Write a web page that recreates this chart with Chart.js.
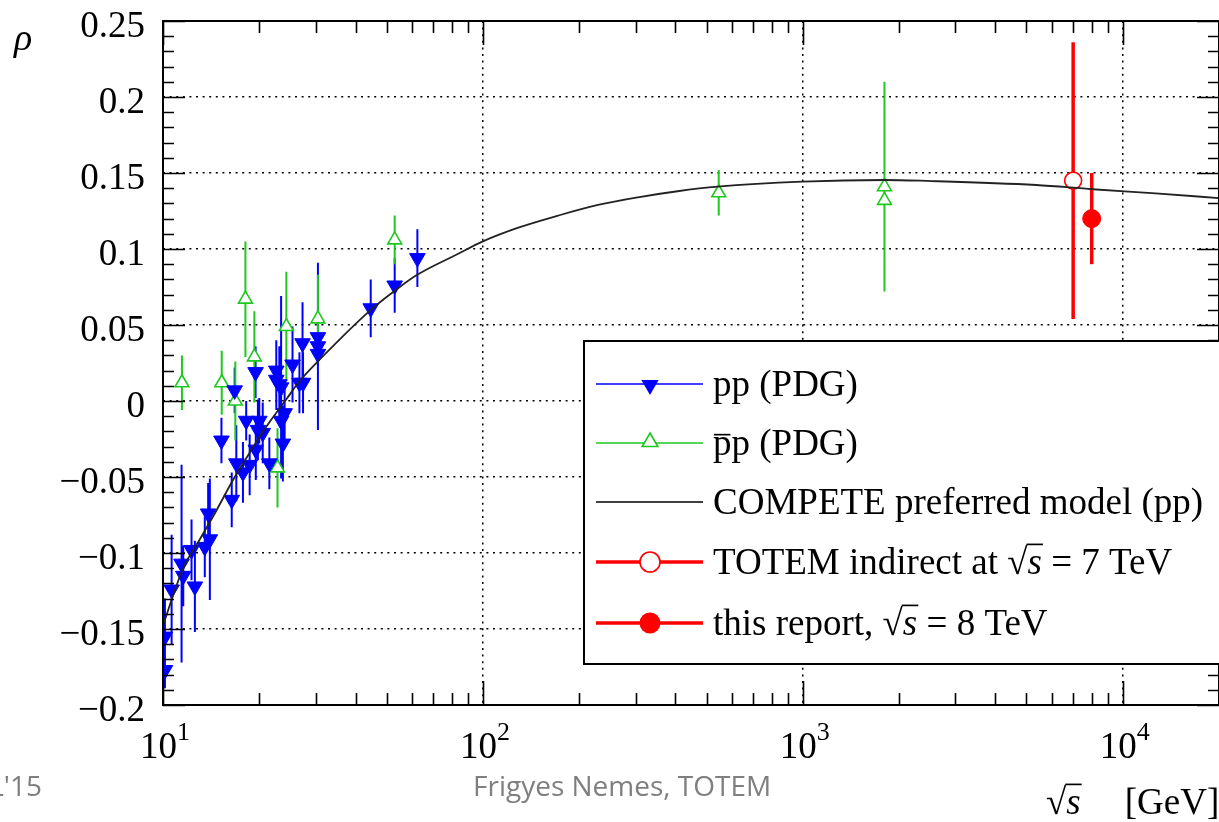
<!DOCTYPE html>
<html>
<head>
<meta charset="utf-8">
<title>rho vs sqrt(s)</title>
<script src="https://cdn.jsdelivr.net/npm/chart.js@4/dist/chart.umd.min.js"></script>
<style>
  html, body { margin: 0; padding: 0; background: #fff; overflow: hidden; }
  #rho-chart { display: block; width: 1219px; height: 822px; }
</style>
</head>
<body>
<canvas id="rho-chart" width="1219" height="822"></canvas>
<script>
// pp (PDG): sqrt(s) [GeV], rho, error
const ppEnergy = [10.14, 10.14, 10.64, 11.43, 11.57, 12.28, 12.58, 13.51, 13.84, 14.01,
                  15.23, 16.40, 16.75, 16.95, 17.78, 18.20, 18.66, 19.47, 19.50, 19.80,
                  20.00, 20.50, 21.50, 22.60, 22.60, 23.10, 23.40, 23.40, 23.70, 24.00,
                  25.40, 26.70, 27.30, 27.40, 30.50, 30.50, 30.50, 44.60, 53.00, 62.40];
const ppRho = [-0.155, -0.177, -0.124, -0.107, -0.115, -0.098, -0.122, -0.096, -0.074, -0.091,
               -0.026, -0.065, 0.007, -0.041, -0.047, -0.013, -0.042, 0.019, -0.032, -0.019,
               -0.013, -0.021, -0.041, 0.020, 0.014, 0.011, 0.009, -0.013, -0.028, -0.008,
               0.024, 0.012, 0.038, 0.012, 0.042, 0.036, 0.031, 0.061, 0.076, 0.094];
const ppErr = [0.025, 0.012, 0.036, 0.065, 0.020, 0.020, 0.030, 0.020, 0.020, 0.040,
               0.015, 0.018, 0.015, 0.025, 0.020, 0.013, 0.020, 0.017, 0.020, 0.020,
               0.015, 0.020, 0.017, 0.020, 0.020, 0.025, 0.060, 0.020, 0.025, 0.020,
               0.025, 0.020, 0.027, 0.020, 0.020, 0.055, 0.020, 0.019, 0.018, 0.019];

// pbar-p (PDG)
const pbarpEnergy = [11.46, 15.26, 16.83, 18.10, 19.30, 22.80, 24.30, 30.50, 53.00, 546, 1800, 1800];
const pbarpRho = [0.012, 0.012, 0.000, 0.067, 0.029, -0.044, 0.049, 0.054, 0.106, 0.137, 0.141, 0.132];
const pbarpErr = [0.018, 0.021, 0.026, 0.038, 0.030, 0.026, 0.036, 0.029, 0.016, 0.015, 0.069, 0.056];

// TOTEM measurements
const totem7Energy = [7000];
const totem7Rho = [0.145];
const totem7Err = [0.091];
const totem8Energy = [8000];
const totem8Rho = [0.12];
const totem8Err = [0.03];

// COMPETE preferred model (pp)
const competeEnergy = [10, 10.14, 11.57, 13.04, 14.69, 16.55, 18.66, 21.02, 24.27, 26.7, 30.8,
                       44.1, 53.4, 62.3, 84.0, 100, 129, 172, 229, 305, 406, 542, 995, 1805, 2438,
                       5365, 8050, 12680, 20000];
const competeRho = [-0.148, -0.144, -0.110, -0.091, -0.072, -0.052, -0.034, -0.017, 0.001, 0.013, 0.027,
                    0.059, 0.073, 0.083, 0.097, 0.105, 0.114, 0.122, 0.129, 0.134, 0.138, 0.141, 0.1443,
                    0.1454, 0.1448, 0.1421, 0.1393, 0.1366, 0.1335];

// axis ranges and labelled decades
const xRange = [10, 20000];
const yRange = [-0.2, 0.25];
const xDecades = [10, 100, 1000, 10000];

const SERIF = "'Liberation Serif', 'Times New Roman', serif";
const BLUE = '#0000ff';
const GREEN = '#1ec81e';
const RED = '#ff0000';

function points(xs, ys) {
  return xs.map((x, i) => ({ x: x, y: ys[i] }));
}

function rhoLabel(v) {
  const r = parseFloat(v.toFixed(2));
  return (r < 0 ? '\u2212' : '') + Math.abs(r).toString();
}

// draws a run of text pieces; {sqrt:true} gives a radical over italic s
function drawRuns(ctx, x, base, runs, size) {
  runs.forEach(run => {
    if (typeof run === 'string') {
      ctx.font = size + 'px ' + SERIF;
      ctx.fillText(run, x, base);
      x += ctx.measureText(run).width;
    } else if (run.sqrt) {
      ctx.font = size + 'px ' + SERIF;
      ctx.fillText('\u221A', x, base);
      const wr = ctx.measureText('\u221A').width;
      ctx.font = 'italic ' + size + 'px ' + SERIF;
      const ws = ctx.measureText('s').width;
      ctx.fillText('s', x + wr, base);
      ctx.save();
      ctx.lineWidth = Math.max(1.5, size * 0.045);
      ctx.strokeStyle = ctx.fillStyle;
      ctx.beginPath();
      ctx.moveTo(x + wr - 1, base - size * 0.80);
      ctx.lineTo(x + wr + ws + 1, base - size * 0.80);
      ctx.stroke();
      ctx.restore();
      x += wr + ws;
    } else if (run.bar) {
      ctx.font = size + 'px ' + SERIF;
      ctx.fillText(run.bar, x, base);
      const w = ctx.measureText(run.bar).width;
      ctx.save();
      ctx.lineWidth = Math.max(1.5, size * 0.045);
      ctx.strokeStyle = ctx.fillStyle;
      ctx.beginPath();
      ctx.moveTo(x + 1, base - size * 0.55);
      ctx.lineTo(x + w - 1, base - size * 0.55);
      ctx.stroke();
      ctx.restore();
      x += w;
    }
  });
  return x;
}

function triangle(ctx, x, y, r, down) {
  const s = down ? -1 : 1;
  ctx.beginPath();
  ctx.moveTo(x, y - s * r);
  ctx.lineTo(x + r * 0.866, y + s * r * 0.5);
  ctx.lineTo(x - r * 0.866, y + s * r * 0.5);
  ctx.closePath();
}

// vertical error bars under the markers
const errorBarPlugin = {
  id: 'errorBars',
  beforeDatasetsDraw(chart) {
    const { ctx, chartArea: a, scales: { x, y } } = chart;
    ctx.save();
    ctx.beginPath();
    ctx.rect(a.left, a.top, a.right - a.left, a.bottom - a.top);
    ctx.clip();
    chart.data.datasets.forEach(ds => {
      if (!ds.errorBars) return;
      ctx.strokeStyle = ds.borderColor;
      ctx.lineWidth = ds.errorWidth;
      ctx.beginPath();
      ds.data.forEach((p, j) => {
        const px = x.getPixelForValue(p.x);
        ctx.moveTo(px, y.getPixelForValue(p.y + ds.errorBars[j]));
        ctx.lineTo(px, y.getPixelForValue(p.y - ds.errorBars[j]));
      });
      ctx.stroke();
    });
    ctx.restore();
  }
};

// box frame with inward ticks, x tick labels, titles and legend
const framePlugin = {
  id: 'frame',
  afterDatasetsDraw(chart) {
    const { ctx, chartArea: a, scales: { x, y } } = chart;
    ctx.save();
    ctx.strokeStyle = '#000';
    ctx.lineWidth = 2;
    ctx.strokeRect(a.left, a.top, a.right - a.left, a.bottom - a.top);
    ctx.lineWidth = 1.6;
    ctx.beginPath();
    for (let i = -20; i <= 25; i++) {
      const py = Math.round(y.getPixelForValue(i / 100)) + 0.5;
      const len = i % 5 === 0 ? 22 : 11;
      ctx.moveTo(a.left, py); ctx.lineTo(a.left + len, py);
      ctx.moveTo(a.right, py); ctx.lineTo(a.right - len, py);
    }
    for (let d = 10; d <= 10000; d *= 10) {
      for (let m = 1; m <= 9; m++) {
        const v = d * m;
        if (v > xRange[1]) break;
        const px = Math.round(x.getPixelForValue(v)) + 0.5;
        const len = m === 1 ? 24 : 12;
        ctx.moveTo(px, a.bottom); ctx.lineTo(px, a.bottom - len);
        ctx.moveTo(px, a.top); ctx.lineTo(px, a.top + len);
      }
    }
    ctx.stroke();
    ctx.restore();
  },
  afterDraw(chart) {
    const { ctx, chartArea: a, scales: { x } } = chart;
    ctx.save();
    ctx.fillStyle = '#000';
    ctx.textAlign = 'left';
    ctx.textBaseline = 'alphabetic';

    // x tick labels as powers of ten
    xDecades.forEach(v => {
      const px = x.getPixelForValue(v);
      const exp = String(Math.round(Math.log10(v)));
      ctx.font = '37px ' + SERIF;
      const w1 = ctx.measureText('10').width;
      ctx.font = '26px ' + SERIF;
      const w2 = ctx.measureText(exp).width;
      const x0 = px - (w1 + w2) / 2 + 2;
      ctx.font = '37px ' + SERIF;
      ctx.fillText('10', x0, 758);
      ctx.font = '26px ' + SERIF;
      ctx.fillText(exp, x0 + w1, 740);
    });

    // axis titles
    ctx.font = 'italic 38px ' + SERIF;
    ctx.fillText('\u03C1', 14, 50);
    const tx = drawRuns(ctx, 1046, 814, [{ sqrt: true }], 37);
    drawRuns(ctx, tx + 44, 814, ['[GeV]'], 37);

    // footer
    ctx.fillStyle = '#7f7f7f';
    ctx.font = "28px 'Open Sans', sans-serif";
    ctx.fillText('Frigyes Nemes, TOTEM', 473, 796);
    ctx.textAlign = 'right';
    ctx.fillText("L'15", 42, 796);
    ctx.textAlign = 'left';

    // legend
    const box = { left: 584, top: 341, right: a.right + 10, bottom: 664 };
    ctx.fillStyle = '#fff';
    ctx.fillRect(box.left, box.top, box.right - box.left, box.bottom - box.top);
    ctx.strokeStyle = '#000';
    ctx.lineWidth = 2;
    ctx.strokeRect(box.left, box.top, box.right - box.left, box.bottom - box.top);

    const rows = [
      { y: 384, color: BLUE, lw: 1.6, mark: 'down', runs: ['pp (PDG)'] },
      { y: 443, color: GREEN, lw: 1.6, mark: 'up', runs: [{ bar: 'p' }, 'p (PDG)'] },
      { y: 502, color: '#000', lw: 1.6, mark: null, runs: ['COMPETE preferred model (pp)'] },
      { y: 562, color: RED, lw: 3.5, mark: 'open', runs: ['TOTEM indirect at ', { sqrt: true }, ' = 7 TeV'] },
      { y: 623, color: RED, lw: 3.5, mark: 'full', runs: ['this report, ', { sqrt: true }, ' = 8 TeV'] }
    ];
    rows.forEach(r => {
      ctx.strokeStyle = r.color;
      ctx.lineWidth = r.lw;
      ctx.beginPath();
      ctx.moveTo(596, r.y);
      ctx.lineTo(703, r.y);
      ctx.stroke();
      const cx = 650;
      ctx.lineWidth = 1.6;
      if (r.mark === 'down') {
        ctx.fillStyle = BLUE;
        triangle(ctx, cx, r.y + 1, 10, true);
        ctx.fill();
      } else if (r.mark === 'up') {
        ctx.fillStyle = '#fff';
        triangle(ctx, cx, r.y - 1, 9, false);
        ctx.fill();
        ctx.stroke();
      } else if (r.mark === 'open') {
        ctx.fillStyle = '#fff';
        ctx.beginPath();
        ctx.arc(cx, r.y, 10, 0, Math.PI * 2);
        ctx.fill();
        ctx.stroke();
      } else if (r.mark === 'full') {
        ctx.fillStyle = RED;
        ctx.beginPath();
        ctx.arc(cx, r.y, 10.5, 0, Math.PI * 2);
        ctx.fill();
      }
      ctx.fillStyle = '#000';
      drawRuns(ctx, 713, r.y + 12, r.runs, 37);
    });
    ctx.restore();
  }
};

document.addEventListener('DOMContentLoaded', () => {
  const ctx = document.getElementById('rho-chart').getContext('2d');

  new Chart(ctx, {
    type: 'scatter',
    data: {
      datasets: [
        {
          label: 'COMPETE preferred model (pp)',
          data: points(competeEnergy, competeRho),
          showLine: true,
          cubicInterpolationMode: 'monotone',
          borderColor: '#222',
          borderWidth: 1.8,
          pointRadius: 0,
          order: 0
        },
        {
          label: 'this report, 8 TeV',
          data: points(totem8Energy, totem8Rho),
          errorBars: totem8Err,
          errorWidth: 3.5,
          pointStyle: 'circle',
          pointRadius: 9,
          backgroundColor: RED,
          borderColor: RED,
          borderWidth: 1,
          order: 1
        },
        {
          label: 'TOTEM indirect at 7 TeV',
          data: points(totem7Energy, totem7Rho),
          errorBars: totem7Err,
          errorWidth: 3.5,
          pointStyle: 'circle',
          pointRadius: 8.5,
          backgroundColor: '#fff',
          borderColor: RED,
          borderWidth: 1.6,
          order: 1
        },
        {
          label: 'pp (PDG)',
          data: points(ppEnergy, ppRho),
          errorBars: ppErr,
          errorWidth: 2,
          pointStyle: 'triangle',
          rotation: 180,
          pointRadius: 9,
          backgroundColor: BLUE,
          borderColor: BLUE,
          borderWidth: 1,
          order: 2
        },
        {
          label: 'pbar-p (PDG)',
          data: points(pbarpEnergy, pbarpRho),
          errorBars: pbarpErr,
          errorWidth: 2,
          pointStyle: 'triangle',
          pointRadius: 8,
          backgroundColor: '#fff',
          borderColor: GREEN,
          borderWidth: 1.6,
          order: 3
        }
      ]
    },
    options: {
      responsive: false,
      animation: false,
      events: [],
      // no automatic room for marker overflow; the right edge of the frame sits just past the canvas
      layout: { autoPadding: false, padding: { top: 21, right: -5, left: 0, bottom: 0 } },
      plugins: {
        legend: { display: false },
        tooltip: { enabled: false }
      },
      scales: {
        x: {
          type: 'logarithmic',
          min: xRange[0],
          max: xRange[1],
          afterBuildTicks: scale => {
            scale.ticks = xDecades.map(v => ({ value: v }));
          },
          afterFit: scale => {
            scale.height = 117;
            scale.paddingLeft = 0;
            scale.paddingRight = 0;
          },
          ticks: { display: false },
          grid: {
            drawTicks: false,
            lineWidth: 1.5,
            color: c => (c.tick && c.tick.value > xRange[0] ? '#000' : 'rgba(0,0,0,0)')
          },
          border: { display: false, dash: [2, 4.6] }
        },
        y: {
          min: yRange[0],
          max: yRange[1],
          afterFit: scale => {
            scale.width = 163;
            scale.paddingTop = 0;
            scale.paddingBottom = 0;
          },
          ticks: {
            stepSize: 0.05,
            padding: 18,
            labelOffset: 6,
            color: '#000',
            font: { family: SERIF, size: 37 },
            callback: v => rhoLabel(v)
          },
          grid: {
            drawTicks: false,
            lineWidth: 1.5,
            color: c => {
              const v = c.tick ? c.tick.value : 0;
              return (v > yRange[0] + 1e-6 && v < yRange[1] - 1e-6) ? '#000' : 'rgba(0,0,0,0)';
            }
          },
          border: { display: false, dash: [2, 4.6] }
        }
      }
    },
    plugins: [errorBarPlugin, framePlugin]
  });
});
</script>
</body>
</html>
